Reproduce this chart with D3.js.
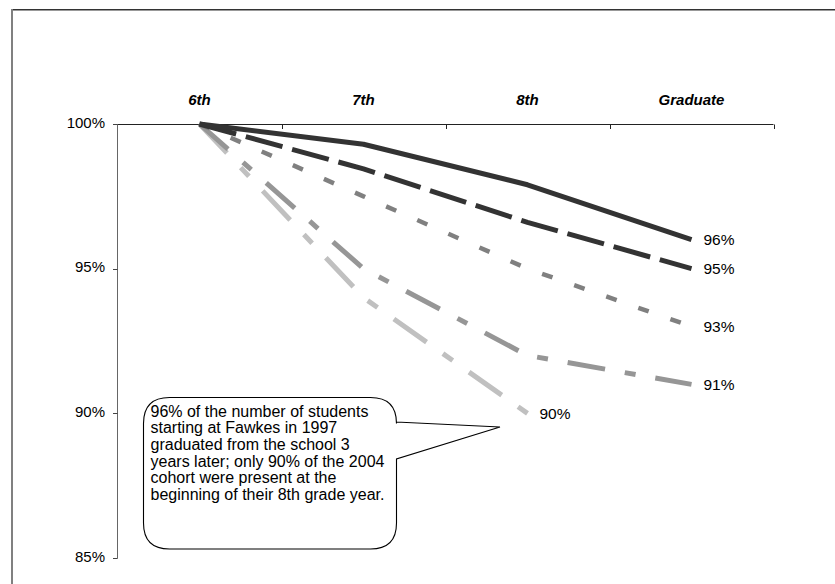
<!DOCTYPE html>
<html><head><meta charset="utf-8">
<script src="https://cdn.jsdelivr.net/npm/d3@7"></script>
<style>body{margin:0;background:#fff;}svg{display:block;font-family:Arial,"Liberation Sans",sans-serif;}</style>
</head><body>
<script>
const categories = ["6th", "7th", "8th", "Graduate"];
const series1 = [100, 99.3, 97.9, 96];
const series2 = [100, 98.45, 96.6, 95];
const series3 = [100, 97.5, 95, 93];
const series4 = [100, 95, 92, 91];
const series5 = [100, 94, 90, null];
const endLabels = ["96%", "95%", "93%", "91%", "90%"];
const yTicks = [85, 90, 95, 100];
const calloutLines = [
  "96% of the number of students",
  "starting at Fawkes in 1997",
  "graduated from the school 3",
  "years later; only 90% of the 2004",
  "cohort were present at the",
  "beginning of their 8th grade year."
];

const W = 835, H = 584;
const svg = d3.select("body").append("svg").attr("width", W).attr("height", H);

// frame
svg.append("line").attr("x1", 11).attr("x2", W).attr("y1", 9.5).attr("y2", 9.5).attr("stroke", "#333").attr("stroke-width", 1);
svg.append("line").attr("x1", 11).attr("x2", W).attr("y1", 10.5).attr("y2", 10.5).attr("stroke", "#999").attr("stroke-width", 1);
svg.append("line").attr("x1", 12).attr("x2", 12).attr("y1", 9).attr("y2", H).attr("stroke", "#808080").attr("stroke-width", 2);

const x = d3.scaleBand().domain(categories).range([117.5, 773.5]);
const y = d3.scaleLinear().domain([85, 100]).range([558, 124]);
const cx = c => x(c) + x.bandwidth() / 2;

// x axis (top, ticks at band boundaries pointing down)
const g = svg.append("g");
g.append("line").attr("x1", 117.5).attr("x2", 773.5).attr("y1", 124.5).attr("y2", 124.5).attr("stroke", "#222");
const bounds = categories.map(c => x(c)).concat([x.range()[1]]);
g.selectAll(".xt").data(bounds.slice(1)).join("line")
  .attr("x1", d => Math.round(d) + 0.5).attr("x2", d => Math.round(d) + 0.5)
  .attr("y1", 124.5).attr("y2", 129).attr("stroke", "#222");
g.selectAll(".xl").data(categories).join("text")
  .attr("x", d => cx(d)).attr("y", 105).attr("text-anchor", "middle")
  .attr("font-size", 15).attr("font-weight", "bold").attr("font-style", "italic").attr("fill", "#000")
  .text(d => d);

// y axis
g.append("line").attr("x1", 117.5).attr("x2", 117.5).attr("y1", 124).attr("y2", 558.5).attr("stroke", "#666");
g.selectAll(".yt").data(yTicks).join("line")
  .attr("x1", 113).attr("x2", 117.5).attr("y1", d => Math.round(y(d)) + 0.5).attr("y2", d => Math.round(y(d)) + 0.5).attr("stroke", "#444");
g.selectAll(".yl").data(yTicks).join("text")
  .attr("x", 105).attr("y", d => y(d) + 3.5).attr("text-anchor", "end")
  .attr("font-size", 15).attr("fill", "#000").text(d => d + "%");

// series
const allSeries = [
  {v: series5, color: "#c0c0c0", w: 5, dash: "40,20,12,20", label: endLabels[4]},
  {v: series4, color: "#969696", w: 5, dash: "38,20,11,20", label: endLabels[3]},
  {v: series3, color: "#808080", w: 4.5, dash: "11,23", label: endLabels[2]},
  {v: series2, color: "#333333", w: 5, dash: "38,10", label: endLabels[1]},
  {v: series1, color: "#333333", w: 5, dash: null, label: endLabels[0]}
];
const line = d3.line().defined(d => d.v != null).x(d => cx(d.c)).y(d => y(d.v));
allSeries.forEach(s => {
  const pts = categories.map((c, i) => ({c: c, v: s.v[i]}));
  svg.append("path").attr("d", line(pts)).attr("fill", "none")
    .attr("stroke", s.color).attr("stroke-width", s.w)
    .attr("stroke-dasharray", s.dash).attr("stroke-linejoin", "round").attr("stroke-linecap", "butt");
  const last = pts.filter(p => p.v != null).pop();
  svg.append("text").attr("x", cx(last.c) + 12).attr("y", y(last.v) + 5.5)
    .attr("font-size", 15.5).attr("fill", "#000").text(s.label);
});

// callout
const bx0 = 143.5, by0 = 397.5, bx1 = 396.5, by1 = 549, r = 26;
const tip = [500, 427];
const p = d3.path();
p.moveTo(bx0 + r, by0);
p.lineTo(bx1 - r, by0);
p.quadraticCurveTo(bx1, by0, bx1, by0 + r);
p.lineTo(bx1, 422);
p.lineTo(tip[0], tip[1]);
p.lineTo(bx1, 459);
p.lineTo(bx1, by1 - r);
p.quadraticCurveTo(bx1, by1, bx1 - r, by1);
p.lineTo(bx0 + r, by1);
p.quadraticCurveTo(bx0, by1, bx0, by1 - r);
p.lineTo(bx0, by0 + r);
p.quadraticCurveTo(bx0, by0, bx0 + r, by0);
p.closePath();
svg.append("path").attr("d", p.toString()).attr("fill", "#fff").attr("stroke", "#000").attr("stroke-width", 1.1);
svg.append("g").selectAll("text").data(calloutLines).join("text")
  .attr("x", 150.5).attr("y", (d, i) => 416.5 + i * 16.7)
  .attr("font-size", 16).attr("fill", "#000").text(d => d);
</script>
</body></html>
